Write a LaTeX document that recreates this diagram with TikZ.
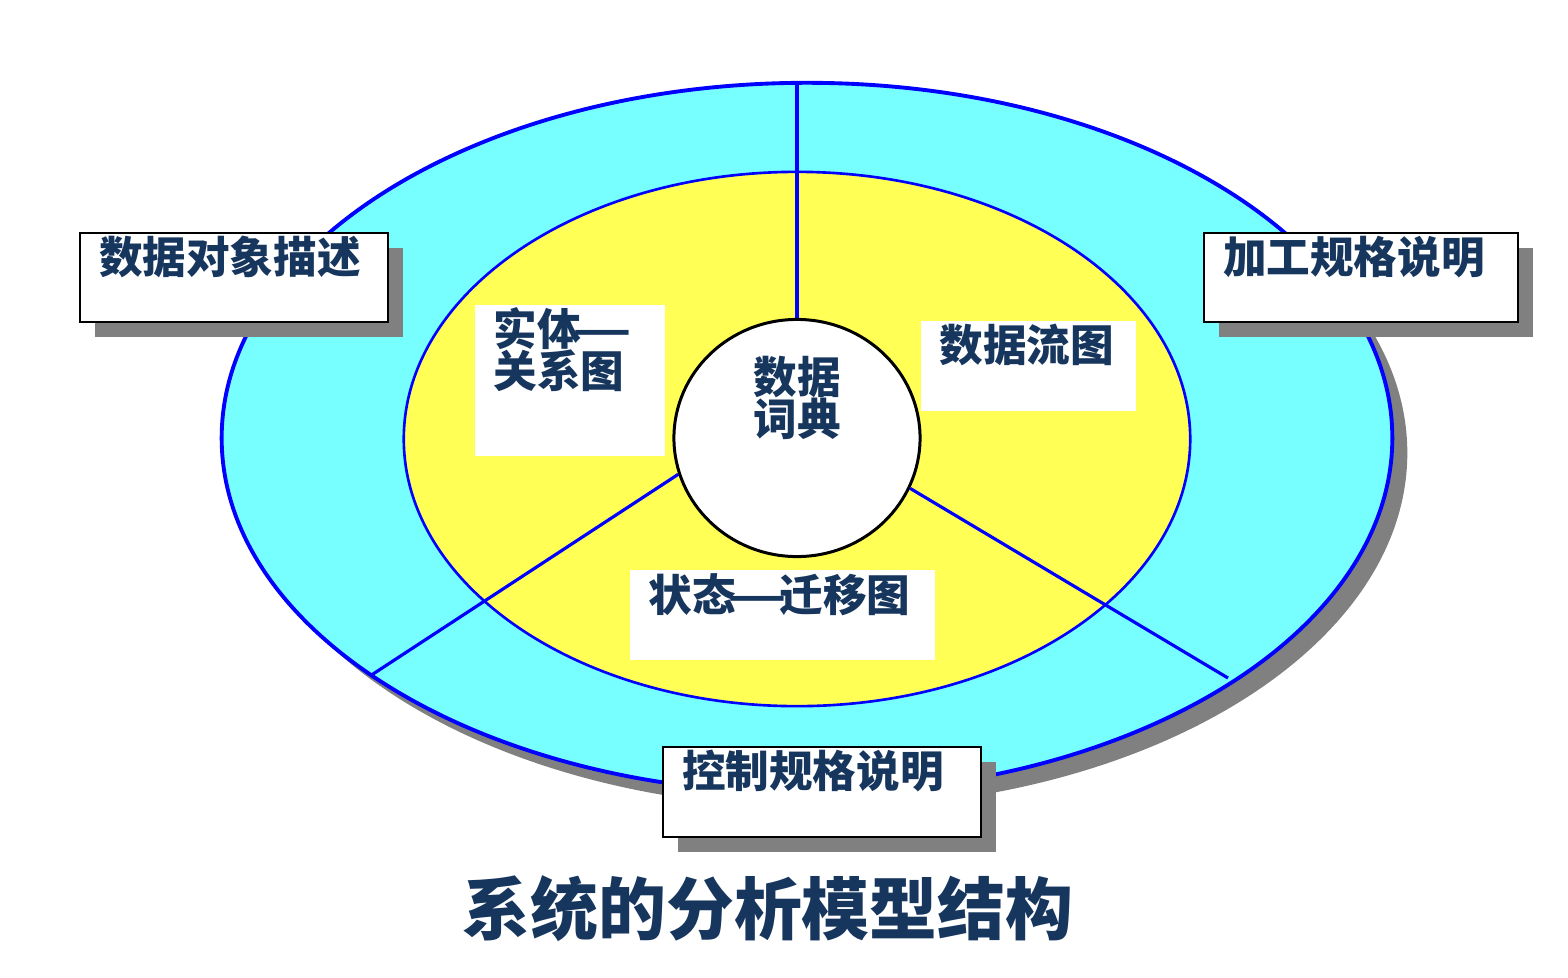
\documentclass[tikz,border=0pt]{standalone}
\usepackage{graphicx}
\usepackage{fontspec}
\setmainfont{Noto Sans CJK SC}
\usetikzlibrary{shapes.geometric,shadows}
\definecolor{navy}{RGB}{23,54,94}
\definecolor{aqua}{RGB}{119,255,255}
\definecolor{lemon}{RGB}{255,255,85}
\definecolor{shadowgray}{RGB}{128,128,128}

\begin{document}
\begin{tikzpicture}[x=0.01cm,y=-0.01cm,
  labfont/.style={font=\fontsize{12.4}{10.8}\selectfont\bfseries},
  lab/.style={labfont, text=navy, align=left,
    anchor=north west, inner xsep=0.19cm, inner ysep=0pt, text height=0.4cm},
  spec/.style={lab, draw=black, line width=0.6pt, fill=white, text depth=0.49cm,
    drop shadow={shadow xshift=0.145cm, shadow yshift=-0.15cm, fill=shadowgray, opacity=1}},
  pane/.style={lab, fill=white},
  sector/.style={blue, line width=0.9pt}]
\useasboundingbox (0,0) rectangle (1568,978);

% rings
\fill [shadowgray] (822,453) ellipse [x radius=5.85cm, y radius=3.55cm];
\draw [blue, line width=1.1pt, fill=aqua] (807,438) ellipse [x radius=5.85cm, y radius=3.55cm];
\draw [blue, line width=0.75pt, fill=lemon] (797,439) ellipse [x radius=3.93cm, y radius=2.67cm];

% data dictionary in the middle
\node [ellipse, draw=black, line width=0.85pt, fill=white, minimum width=2.46cm,
  minimum height=2.37cm, inner sep=0pt, text width=1cm, align=center,
  text height=0.26cm, text depth=1.14cm, labfont, text=navy] (dict) at (797,438) {数据\\[-1pt]词典};

\coordinate (rimtop) at (797,84);
\coordinate (rimleft) at (370,676);
\coordinate (rimright) at (1228,678);
\draw [sector] (dict.north) -- (rimtop);
\draw [sector] (dict.197) -- (rimleft);
\draw [sector] (dict.336) -- (rimright);

% models
\node [pane, text width=1.52cm, text height=0.41cm, text depth=1.10cm] (er) at (474,304) {实体\makebox[1em][c]{\scalebox{1.5}[1]{—}}\\[-1pt]关系图};
\node [pane, text width=1.77cm, text height=0.41cm, text depth=0.49cm] (dfd) at (920,320) {数据流图};
\node [pane, text width=2.67cm, text height=0.42cm, text depth=0.48cm] (std) at (629,569) {状态\makebox[1em][c]{\scalebox{1.5}[1]{—}}迁移图};

% specifications
\node [spec, text width=2.70cm] (objdesc) at (79,232) {数据对象描述};
\node [spec, text width=2.76cm] (procspec) at (1203,232) {加工规格说明};
\node [spec, text width=2.80cm, text depth=0.5cm] (ctrlspec) at (662,746) {控制规格说明};

\node [font=\fontsize{19.3}{19.3}\selectfont\bfseries, text=navy] (title) at (768,909) {系统的分析模型结构};
\end{tikzpicture}
\end{document}
